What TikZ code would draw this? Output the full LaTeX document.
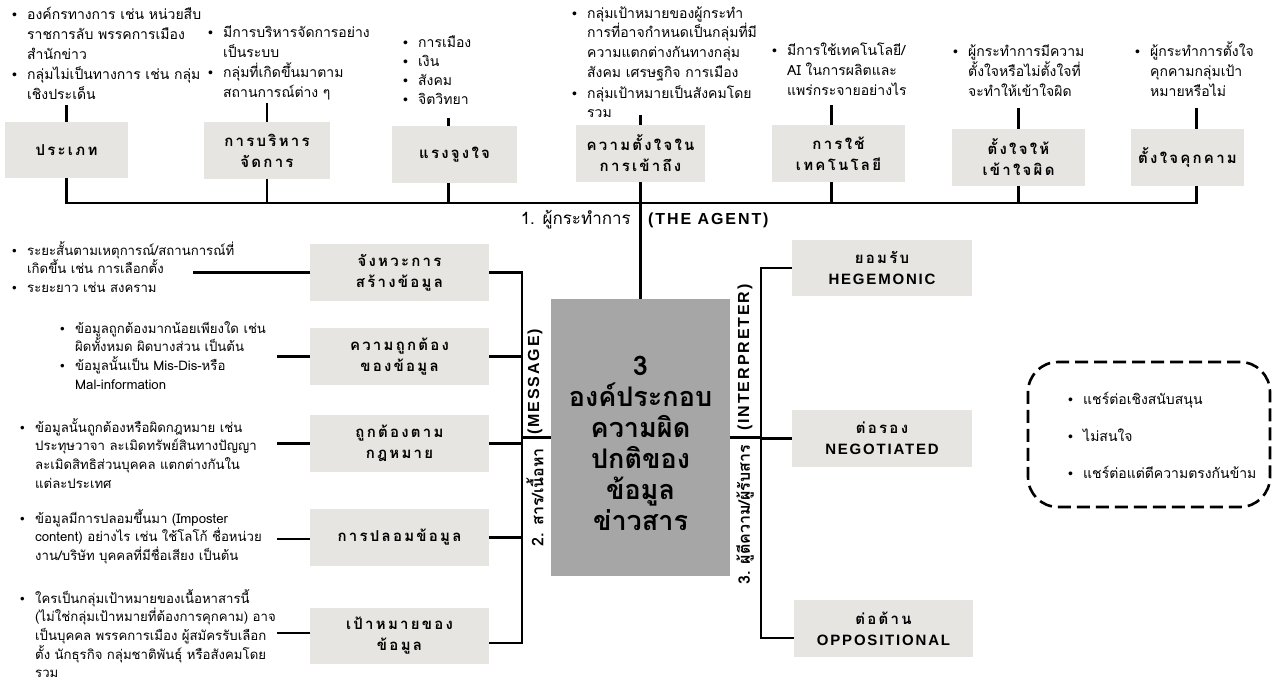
\documentclass[tikz,border=0pt]{standalone}
\usepackage{fontspec}
\setmainfont{Liberation Sans}
\newfontfamily\thai[Script=Thai]{Loma}
\newfontfamily\thaihd[Script=Thai,LetterSpace=15]{Loma}
\newfontfamily\latinhd[LetterSpace=12]{Liberation Sans}
\newfontfamily\bulletfont{Liberation Sans}
\definecolor{boxgray}{RGB}{230,229,226}
\definecolor{coregray}{RGB}{166,166,166}
\newcommand\bl{\makebox[15pt][l]{\bulletfont •}}
\newcommand\ind{\hspace*{15pt}}
\begin{document}
\begin{tikzpicture}[x=1pt,y=-1pt,
  box/.style={fill=boxgray,inner sep=0,align=center,font=\thaihd\bfseries\fontsize{15}{21}\selectfont},
  note/.style={anchor=base west,inner sep=0,align=left,font=\thai\fontsize{14}{20}\selectfont},
  lnote/.style={note,font=\thai\fontsize{13.2}{18.7}\selectfont},
  link/.style={line width=2.6pt},
  head/.style={inner sep=0,font=\latinhd\bfseries\fontsize{16}{18}\selectfont}]
\useasboundingbox (0,0) rectangle (1274,690);
% top row
\node[box,minimum width=123,minimum height=56](typeBox) at (66.5,150){ประเภท};
\node[box,minimum width=126,minimum height=57](mgmtBox) at (267,150.5){การบริหาร\\จัดการ};
\node[box,minimum width=125,minimum height=57](motiveBox) at (454.5,154.5){แรงจูงใจ};
\node[box,minimum width=129,minimum height=57](intentBox) at (640.5,153.5){ความตั้งใจใน\\การเข้าถึง};
\node[box,minimum width=133,minimum height=57](techBox) at (838.5,153.5){การใช้\\เทคโนโลยี};
\node[box,minimum width=133,minimum height=57](misBox) at (1018.5,157.5){ตั้งใจให้\\เข้าใจผิด};
\node[box,minimum width=113,minimum height=57](threatBox) at (1187.5,157.5){ตั้งใจคุกคาม};
\node[note](typeNote) at (12,100){\bl องค์กรทางการ เช่น หน่วยสืบ\\\ind ราชการลับ พรรคการเมือง\\\ind สำนักข่าว\\\bl กลุ่มไม่เป็นทางการ เช่น กลุ่ม\\\ind เชิงประเด็น};
\node[note](mgmtNote) at (208,98){\bl มีการบริหารจัดการอย่าง\\\ind เป็นระบบ\\\bl กลุ่มที่เกิดขึ้นมาตาม\\\ind สถานการณ์ต่าง ๆ};
\node[note,font=\thai\fontsize{14}{19.3}\selectfont](motiveNote) at (403,105){\bl การเมือง\\\bl เงิน\\\bl สังคม\\\bl จิตวิทยา};
\node[note](intentNote) at (572,118){\bl กลุ่มเป้าหมายของผู้กระทำ\\\ind การที่อาจกำหนดเป็นกลุ่มที่มี\\\ind ความแตกต่างกันทางกลุ่ม\\\ind สังคม เศรษฐกิจ การเมือง\\\bl กลุ่มเป้าหมายเป็นสังคมโดย\\\ind รวม};
\node[note](techNote) at (772,96){\bl มีการใช้เทคโนโลยี/\\\ind AI ในการผลิตและ\\\ind แพร่กระจายอย่างไร};
\node[note](misNote) at (953,97){\bl ผู้กระทำการมีความ\\\ind ตั้งใจหรือไม่ตั้งใจที่\\\ind จะทำให้เข้าใจผิด};
\node[note](threatNote) at (1135,97){\bl ผู้กระทำการตั้งใจ\\\ind คุกคามกลุ่มเป้า\\\ind หมายหรือไม่};
\draw[link](typeBox.north)--++(0,-17);
\draw[link](mgmtBox.north)--++(0,-19);
\draw[link]([xshift=-6pt]motiveBox.north)--++(0,-8);
\draw[link](intentBox.north)--++(0,-10);
\draw[link]([xshift=-7pt]techBox.north)--++(0,-20);
\draw[link](misBox.north)--++(0,-21);
\draw[link]([xshift=9pt]threatBox.north)--++(0,-21);
\coordinate(bar) at (0,203);
\draw[link](typeBox.south)--(typeBox.south|-bar)--([xshift=9pt]threatBox.south|-bar)--([xshift=9pt]threatBox.south);
\draw[link](mgmtBox.south)--(mgmtBox.south|-bar);
\draw[link]([xshift=-6pt]motiveBox.south)--([xshift=-6pt]motiveBox.south|-bar);
\draw[link]([xshift=-7pt]techBox.south)--([xshift=-7pt]techBox.south|-bar);
\draw[link](misBox.south)--(misBox.south|-bar);
% core
\node[fill=coregray,minimum width=179,minimum height=277,inner sep=0,align=center,
  font=\thai\bfseries\fontsize{27}{31}\selectfont](core) at (640.5,437.5){\rule{0pt}{31pt}3\\องค์ประกอบ\\ความผิด\\ปกติของ\\ข้อมูล\\ข่าวสาร};
\draw[link](intentBox.south)--(core.north);
\node[inner sep=0,anchor=east,font=\thai\fontsize{17}{20}\selectfont](agentTh) at (631,220){1. ผู้กระทำการ};
\node[head,anchor=west](agentEn) at (648,220){(THE AGENT)};
% message
\node[box,minimum width=179,minimum height=57](paceBox) at (399.5,272.5){จังหวะการ\\สร้างข้อมูล};
\node[box,minimum width=179,minimum height=57](truthBox) at (399.5,356.5){ความถูกต้อง\\ของข้อมูล};
\node[box,minimum width=179,minimum height=57](lawBox) at (399.5,443.5){ถูกต้องตาม\\กฎหมาย};
\node[box,minimum width=179,minimum height=57](fakeBox) at (399.5,537.5){การปลอมข้อมูล};
\node[box,minimum width=179,minimum height=56](goalBox) at (399.5,636){เป้าหมายของ\\ข้อมูล};
\node[lnote](paceNote) at (12,292.4){\bl ระยะสั้นตามเหตุการณ์/สถานการณ์ที่\\\ind เกิดขึ้น เช่น การเลือกตั้ง\\\bl ระยะยาว เช่น สงคราม};
\node[lnote](truthNote) at (60,389.1){\bl ข้อมูลถูกต้องมากน้อยเพียงใด เช่น\\\ind ผิดทั้งหมด ผิดบางส่วน เป็นต้น\\\bl ข้อมูลนั้นเป็น Mis-Dis-หรือ\\\ind Mal-information};
\node[lnote](lawNote) at (20,488.1){\bl ข้อมูลนั้นถูกต้องหรือผิดกฎหมาย เช่น\\\ind ประทุษวาจา ละเมิดทรัพย์สินทางปัญญา\\\ind ละเมิดสิทธิส่วนบุคคล แตกต่างกันใน\\\ind แต่ละประเทศ};
\node[lnote](fakeNote) at (20,560.4){\bl ข้อมูลมีการปลอมขึ้นมา (Imposter\\\ind content) อย่างไร เช่น ใช้โลโก้ ชื่อหน่วย\\\ind งาน/บริษัท บุคคลที่มีชื่อเสียง เป็นต้น};
\node[lnote](goalNote) at (20,677.8){\bl ใครเป็นกลุ่มเป้าหมายของเนื้อหาสารนี้\\\ind (ไม่ใช่กลุ่มเป้าหมายที่ต้องการคุกคาม) อาจ\\\ind เป็นบุคคล พรรคการเมือง ผู้สมัครรับเลือก\\\ind ตั้ง นักธุรกิจ กลุ่มชาติพันธุ์ หรือสังคมโดย\\\ind รวม};
\coordinate(paceEnd) at (193,272.5);
\coordinate(truthEnd) at (277,356.5);
\coordinate(lawEnd) at (277,443.5);
\coordinate(fakeEnd) at (277,539);
\coordinate(goalEnd) at (277,633);
\draw[link](paceBox.west)--(paceEnd);
\draw[link](truthBox.west)--(truthEnd);
\draw[link](lawBox.west)--(lawEnd);
\draw[link](fakeBox.west|-fakeEnd)--(fakeEnd);
\draw[link](goalBox.west|-goalEnd)--(goalEnd);
\coordinate(lBot) at (522,643);
\draw[link](paceBox.east)-|(lBot)--(goalBox.east|-lBot);
\draw[link](truthBox.east)--(truthBox.east-|lBot);
\draw[link](lawBox.east)--(lawBox.east-|lBot);
\draw[link](fakeBox.east)--(fakeBox.east-|lBot);
\draw[link](core.west)--(core.west-|lBot);
\node[inner sep=0,anchor=east,rotate=90,font=\thai\bfseries\fontsize{16}{18}\selectfont](msgTh) at (535,448){2. สาร/เนื้อหา};
\node[head,anchor=west,rotate=90](msgEn) at (535,435){(MESSAGE)};
% interpreter
\node[box,minimum width=180,minimum height=56](hegBox) at (882,268){ยอมรับ\\{\latinhd HEGEMONIC}};
\node[box,minimum width=180,minimum height=57](negBox) at (882,438.5){ต่อรอง\\{\latinhd NEGOTIATED}};
\node[box,minimum width=179,minimum height=57](oppBox) at (883.5,628.5){ต่อต้าน\\{\latinhd OPPOSITIONAL}};
\coordinate(rBot) at (761,638);
\draw[link](hegBox.west)-|(rBot)--(oppBox.west|-rBot);
\draw[link](negBox.west)--(negBox.west-|rBot);
\draw[link](core.east)--(core.east-|rBot);
\node[inner sep=0,anchor=east,rotate=90,font=\thai\bfseries\fontsize{16}{18}\selectfont](intTh) at (745,445){3. ผู้ตีความ/ผู้รับสาร};
\node[head,anchor=west,rotate=90](intEn) at (745,431){(INTERPRETER)};
\node[draw,line width=2.6pt,dash pattern=on 13pt off 6pt,rounded corners=30pt,minimum width=242,minimum height=145](shareBox) at (1149,434.5){};
\node[note,font=\thai\fontsize{14}{37}\selectfont](shareNote) at (1068,478){\bl แชร์ต่อเชิงสนับสนุน\\\bl ไม่สนใจ\\\bl แชร์ต่อแต่ตีความตรงกันข้าม};
\end{tikzpicture}
\end{document}
